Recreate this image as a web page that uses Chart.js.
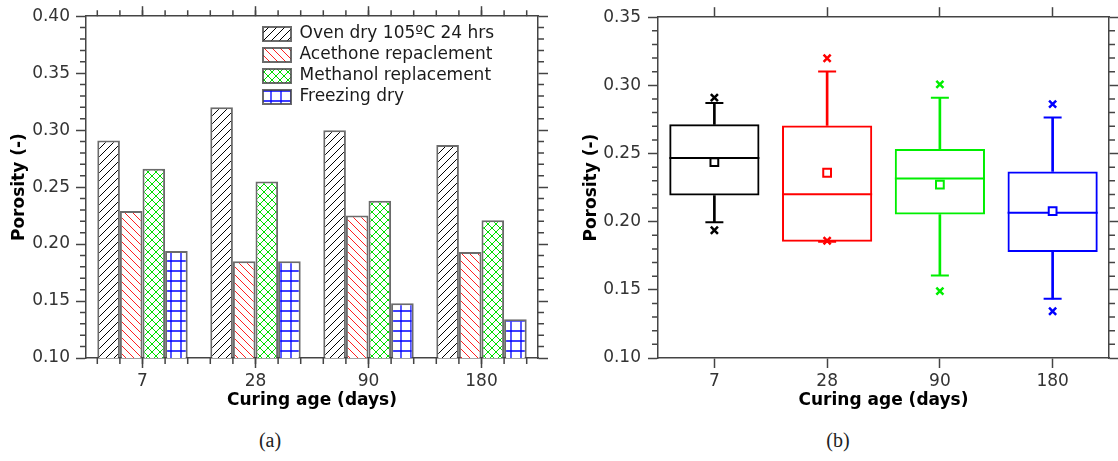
<!DOCTYPE html>
<html>
<head>
<meta charset="utf-8">
<script src="https://cdn.jsdelivr.net/npm/chart.js@4.4.1/dist/chart.umd.min.js"></script>
<style>
    body { margin: 0; background: #fff; width: 1118px; height: 461px; position: relative; overflow: hidden; }
    canvas { position: absolute; top: 0; }
    #chart-a { left: 0; }
    #chart-b { left: 560px; }
    .caption { position: absolute; top: 429px; font-family: 'Liberation Serif', serif; font-size: 20px; color: #222; transform: translateX(-50%); }
</style>
</head>
<body>
<canvas id="chart-a" width="556" height="420"></canvas>
<canvas id="chart-b" width="558" height="420"></canvas>
<div class="caption" style="left:270px">(a)</div>
<div class="caption" style="left:838px">(b)</div>
<script>
// --- Data ---
const curingAges = ['7', '28', '90', '180'];

// (a) porosity by drying method
const methodLabels = ['Oven dry 105ºC 24 hrs', 'Acethone repaclement', 'Methanol replacement', 'Freezing dry'];
const ovenDry = [0.291, 0.320, 0.300, 0.287];
const acetone = [0.229, 0.185, 0.225, 0.193];
const methanol = [0.266, 0.255, 0.238, 0.221];
const freezing = [0.194, 0.185, 0.148, 0.134];
const rangeA = [0.10, 0.40];

// (b) box statistics per curing age
const boxQ1 = [0.2192, 0.1853, 0.2053, 0.1777];
const boxQ3 = [0.2714, 0.2706, 0.2534, 0.2369];
const boxMedian = [0.2468, 0.2201, 0.2316, 0.2066];
const boxMean = [0.2437, 0.2359, 0.2272, 0.2078];
const whiskerHigh = [0.2871, 0.3102, 0.2910, 0.2765];
const whiskerLow = [0.1995, 0.1853, 0.1605, 0.1434];
const extremeHigh = [0.2910, 0.3199, 0.3007, 0.2862];
const extremeLow = [0.1937, 0.1860, 0.1490, 0.1343];
const rangeB = [0.10, 0.35];

const boxColors = ['#000000', '#ff0000', '#00ee00', '#0000ff'];
const axisColor = '#444';

Chart.defaults.font.family = "'DejaVu Sans', sans-serif";
Chart.defaults.font.size = 17;
Chart.defaults.color = '#333';

// Small hatch tiles for the bars
function hatch(kind, color, lw) {
    const s = kind === 'grid' ? 10 : 8;
    const c = document.createElement('canvas');
    c.width = s;
    c.height = s;
    const g = c.getContext('2d');
    g.fillStyle = '#fff';
    g.fillRect(0, 0, s, s);
    g.strokeStyle = color;
    g.lineWidth = lw;
    g.beginPath();
    if (kind === 'fwd' || kind === 'cross') {
        g.moveTo(-1, s + 1); g.lineTo(s + 1, -1);
        g.moveTo(-1, 1); g.lineTo(1, -1);
        g.moveTo(s - 1, s + 1); g.lineTo(s + 1, s - 1);
    }
    if (kind === 'back' || kind === 'cross') {
        g.moveTo(-1, -1); g.lineTo(s + 1, s + 1);
        g.moveTo(s - 1, -1); g.lineTo(s + 1, 1);
        g.moveTo(-1, s - 1); g.lineTo(1, s + 1);
    }
    if (kind === 'grid') {
        g.moveTo(1, 0); g.lineTo(1, s);
        g.moveTo(0, 1); g.lineTo(s, 1);
    }
    g.stroke();
    if (kind === 'cross') {
        g.fillStyle = color;
        g.fillRect(s / 2 - 1, s / 2 - 1, 2, 2);
    }
    return g.createPattern(c, 'repeat');
}

// Minor ticks every 0.01 on both vertical axes
const minorTicks = {
    id: 'minorTicks',
    afterDraw(chart) {
        const ctx = chart.ctx;
        const area = chart.chartArea;
        ctx.save();
        ctx.strokeStyle = axisColor;
        ctx.lineWidth = 1.5;
        ctx.beginPath();
        ['y', 'y2'].forEach(id => {
            const sc = chart.scales[id];
            const n = Math.round((sc.max - sc.min) / 0.01);
            for (let i = 1; i < n; i++) {
                if (i % 5 === 0) continue;
                const py = sc.getPixelForValue(sc.min + i * 0.01);
                if (sc.position === 'left') {
                    ctx.moveTo(area.left - 6, py); ctx.lineTo(area.left, py);
                } else {
                    ctx.moveTo(area.right, py); ctx.lineTo(area.right + 6, py);
                }
            }
        });
        ctx.stroke();
        ctx.restore();
    }
};

// Short ticks at every bar edge, top and bottom (chart a)
const barEdgeTicks = {
    id: 'barEdgeTicks',
    afterDraw(chart) {
        const ctx = chart.ctx;
        const area = chart.chartArea;
        ctx.save();
        ctx.strokeStyle = axisColor;
        ctx.lineWidth = 1.5;
        ctx.beginPath();
        chart.data.datasets.forEach((ds, i) => {
            chart.getDatasetMeta(i).data.forEach(bar => {
                [bar.x - bar.width / 2, bar.x + bar.width / 2].forEach(px => {
                    ctx.moveTo(px, area.bottom); ctx.lineTo(px, area.bottom + 6);
                    ctx.moveTo(px, area.top); ctx.lineTo(px, area.top - 6);
                });
            });
        });
        ctx.stroke();
        ctx.restore();
    }
};

// Move the chartArea legend to the upper right corner
const legendInside = {
    id: 'legendInside',
    afterLayout(chart) {
        chart.legend.left = 259;
        chart.legend.top = 21.5;
    }
};

function buildScales(range, yWidth, y2Width, yTitlePad, extraTicks) {
    const border = { color: axisColor, width: 1.5 };
    const grid = { drawOnChartArea: false, offset: false, tickLength: 10, tickColor: axisColor, tickWidth: 1.5 };
    return {
        x: {
            offset: true,
            grid: grid,
            border: border,
            ticks: { padding: 3, color: '#333' },
            title: { display: true, text: 'Curing age (days)', color: '#000', font: { weight: 'bold', size: 17 }, padding: { top: 0, bottom: 9 } },
            afterFit: s => { s.height = 62; }
        },
        x2: {
            type: 'category',
            position: 'top',
            offset: true,
            grid: grid,
            border: border,
            ticks: { display: false },
            afterFit: s => { s.height = 14; }
        },
        y: {
            min: range[0],
            max: range[1],
            grid: grid,
            border: border,
            ticks: { stepSize: 0.05, padding: extraTicks, color: '#333', callback: v => v.toFixed(2) },
            title: { display: true, text: 'Porosity (-)', color: '#000', font: { weight: 'bold', size: 17 }, padding: { top: yTitlePad, bottom: 0 } },
            afterFit: s => { s.width = yWidth; }
        },
        y2: {
            position: 'right',
            min: range[0],
            max: range[1],
            grid: grid,
            border: border,
            ticks: { display: false, stepSize: 0.05 },
            afterFit: s => { s.width = y2Width; }
        }
    };
}

// --- (a) grouped hatched bars ---
const barBorder = 'rgba(70, 70, 70, 0.8)';
const barSeries = [ovenDry, acetone, methanol, freezing];
const barFills = [
    hatch('fwd', '#000', 1),
    hatch('back', '#ff2020', 1),
    hatch('cross', '#00dd00', 1),
    hatch('grid', '#0000ff', 1.3)
];

new Chart(document.getElementById('chart-a'), {
    type: 'bar',
    data: {
        labels: curingAges,
        datasets: barSeries.map((values, i) => ({
            label: methodLabels[i],
            data: values,
            backgroundColor: barFills[i],
            borderColor: barBorder,
            borderWidth: 2,
            categoryPercentage: 0.8,
            barPercentage: 1.0
        }))
    },
    options: {
        responsive: false,
        animation: false,
        events: [],
        devicePixelRatio: 1,
        layout: { padding: 0, autoPadding: false },
        scales: buildScales(rangeA, 86, 18, 9, 6),
        plugins: {
            legend: {
                position: 'chartArea',
                align: 'start',
                labels: { boxWidth: 28, boxHeight: 14, padding: 4, color: '#1a1a1a', font: { size: 17 } }
            },
            tooltip: { enabled: false }
        }
    },
    plugins: [minorTicks, barEdgeTicks, legendInside]
});

// --- (b) box plots ---
const pointSet = (label, data, style, radius, width, fill) => ({
    type: 'line',
    label: label,
    data: data,
    showLine: false,
    pointStyle: style,
    pointRadius: radius,
    pointHoverRadius: radius,
    pointBorderWidth: width,
    pointBorderColor: boxColors,
    pointBackgroundColor: fill || boxColors
});

const pair = (a, b) => a.map((v, i) => [v, b[i]]);

new Chart(document.getElementById('chart-b'), {
    type: 'bar',
    data: {
        labels: curingAges,
        datasets: [
            pointSet('Max', extremeHigh, 'crossRot', 5, 2.5),
            pointSet('Min', extremeLow, 'crossRot', 5, 2.5),
            pointSet('Mean', boxMean, 'rect', 5.5, 2, '#ffffff'),
            pointSet('Median', boxMedian, 'line', 45, 2),
            pointSet('Upper whisker', whiskerHigh, 'line', 9, 2),
            pointSet('Lower whisker', whiskerLow, 'line', 9, 2),
            {
                label: 'IQR',
                data: pair(boxQ1, boxQ3),
                grouped: false,
                backgroundColor: 'rgba(0, 0, 0, 0)',
                borderColor: boxColors,
                borderWidth: 2,
                borderSkipped: false,
                categoryPercentage: 0.8,
                barPercentage: 1.0
            },
            {
                label: 'Upper stem',
                data: pair(boxQ3, whiskerHigh),
                grouped: false,
                backgroundColor: boxColors,
                borderWidth: 0,
                barThickness: 2
            },
            {
                label: 'Lower stem',
                data: pair(whiskerLow, boxQ1),
                grouped: false,
                backgroundColor: boxColors,
                borderWidth: 0,
                barThickness: 2
            }
        ]
    },
    options: {
        responsive: false,
        animation: false,
        events: [],
        devicePixelRatio: 1,
        layout: { padding: 0, autoPadding: false },
        scales: buildScales(rangeB, 98, 9, 21, 7),
        plugins: {
            legend: { display: false },
            tooltip: { enabled: false }
        }
    },
    plugins: [minorTicks]
});
</script>
</body>
</html>
